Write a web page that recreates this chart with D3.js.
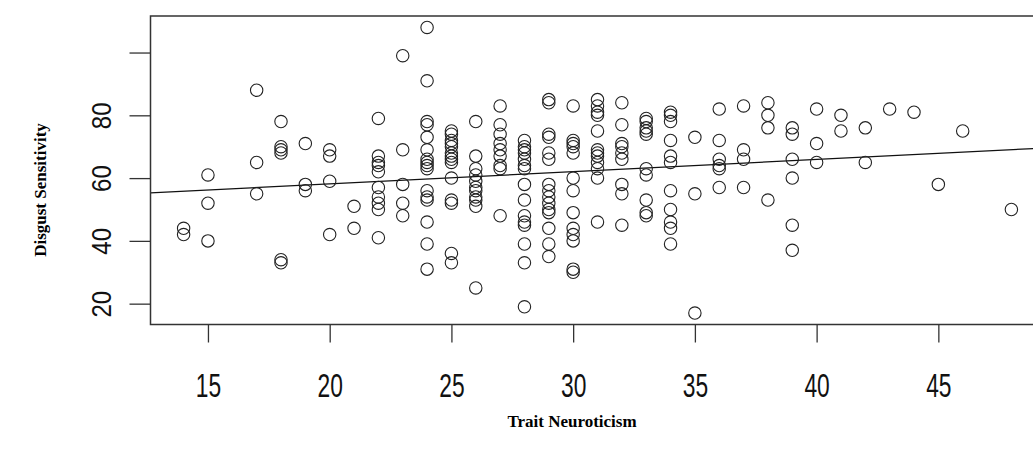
<!DOCTYPE html>
<html>
<head>
<meta charset="utf-8">
<script src="https://cdn.jsdelivr.net/npm/d3@7"></script>
<style>
  body { margin: 0; background: #fff; }
  svg { display: block; }
</style>
</head>
<body>
<div id="chart"></div>
<script>
// Trait neuroticism scores (x) and the disgust sensitivity scores seen at each of them
var neuroticism_levels = [14, 15, 17, 18, 19, 20, 21, 22, 23, 24, 25, 26, 27, 28, 29, 30, 31,
  32, 33, 34, 35, 36, 37, 38, 39, 40, 41, 42, 43, 44, 45, 46, 48];

var disgust_by_level = [
  [44, 42],
  [61, 52, 40],
  [88, 65, 55],
  [78, 70, 69, 68, 34, 33],
  [71, 58, 56],
  [69, 67, 59, 42],
  [51, 44],
  [79, 67, 65, 64, 62, 57, 54, 52, 50, 41],
  [99, 69, 58, 52, 48],
  [108, 91, 78, 77, 73, 69, 66, 65, 64, 63, 56, 54, 53, 46, 39, 31],
  [75, 74, 72, 71, 70, 68, 67, 66, 65, 60, 53, 52, 36, 33],
  [78, 67, 63, 61, 59, 57, 56, 54, 53, 51, 25],
  [83, 77, 74, 71, 69, 67, 64, 63, 48],
  [72, 70, 69, 68, 66, 64, 63, 58, 53, 48, 46, 45, 39, 33, 19],
  [85, 84, 74, 73, 68, 66, 58, 56, 54, 52, 50, 49, 44, 39, 35],
  [83, 72, 71, 70, 68, 60, 56, 49, 44, 42, 40, 31, 30],
  [85, 83, 81, 80, 75, 69, 68, 67, 65, 63, 60, 46],
  [84, 77, 71, 70, 68, 66, 58, 55, 45],
  [79, 78, 76, 75, 74, 63, 61, 53, 49, 48],
  [81, 80, 78, 72, 67, 65, 56, 50, 46, 44, 39],
  [73, 55, 17],
  [82, 72, 66, 64, 63, 57],
  [83, 69, 66, 57],
  [84, 80, 76, 53],
  [76, 74, 66, 60, 45, 37],
  [82, 71, 65],
  [80, 75],
  [76, 65],
  [82],
  [81],
  [58],
  [75],
  [50]
];

var x_ticks = [15, 20, 25, 30, 35, 40, 45];
var y_ticks = [20, 40, 60, 80, 100];
var y_tick_labels = ["20", "40", "60", "80", ""];

// abline(lm(...)) coefficients
var fit_intercept = 50.35,
    fit_slope = 0.39;

var x_label = "Trait Neuroticism",
    y_label = "Disgust Sensitivity";

var page_width = 1033,
    page_height = 454,
    plot_left = 150.5,
    plot_top = 16,
    plot_width = 894,
    plot_height = 308.5;

var points = [];
neuroticism_levels.forEach(function (level, i) {
  disgust_by_level[i].forEach(function (score) {
    points.push({x: level, y: score});
  });
});

// R pads the data range by 4% on each side
function padded(extent) {
  var pad = (extent[1] - extent[0]) * 0.04;
  return [extent[0] - pad, extent[1] + pad];
}

var x_scale = d3.scaleLinear()
    .domain(padded(d3.extent(points, function (d) { return d.x; })))
    .range([0, plot_width]);
var y_scale = d3.scaleLinear()
    .domain(padded(d3.extent(points, function (d) { return d.y; })))
    .range([plot_height, 0]);

var svg = d3.select("#chart").append("svg")
    .attr("width", page_width)
    .attr("height", page_height);

var plot = svg.append("g")
    .attr("transform", "translate(" + plot_left + "," + plot_top + ")");

var tick_font = "'Liberation Sans', Arial, sans-serif";

var x_axis = plot.append("g")
    .attr("transform", "translate(0," + plot_height + ")")
    .call(d3.axisBottom(x_scale).tickValues(x_ticks).tickSize(18));
var y_axis = plot.append("g")
    .call(d3.axisLeft(y_scale).tickValues(y_ticks).tickSize(21)
        .tickFormat(function (d, i) { return y_tick_labels[i]; }));

[x_axis, y_axis].forEach(function (axis) {
  axis.select(".domain").remove();
  axis.selectAll("line").attr("stroke", "#333").attr("stroke-width", 1.3);
  axis.selectAll("text")
      .attr("fill", "#111")
      .attr("x", null)
      .attr("y", null)
      .attr("dy", null)
      .attr("text-anchor", "middle")
      .style("font-family", tick_font)
      .style("font-size", "24px");
});

// the original picture was stretched, so the digits come out tall and narrow
x_axis.selectAll("text")
    .attr("transform", "translate(0,72.5) scale(0.95,1.4)");
y_axis.selectAll("text")
    .attr("transform", "translate(-40,0) rotate(-90) scale(1,1.15)");

// fitted line, clipped to the plot box
plot.append("clipPath").attr("id", "box-clip")
    .append("rect").attr("width", plot_width).attr("height", plot_height);

var x_domain = x_scale.domain();
plot.append("line")
    .attr("clip-path", "url(#box-clip)")
    .attr("x1", x_scale(x_domain[0]))
    .attr("y1", y_scale(fit_intercept + fit_slope * x_domain[0]))
    .attr("x2", x_scale(x_domain[1]))
    .attr("y2", y_scale(fit_intercept + fit_slope * x_domain[1]))
    .attr("stroke", "#111")
    .attr("stroke-width", 1.2);

plot.append("g").selectAll("circle")
    .data(points)
    .join("circle")
    .attr("cx", function (d) { return x_scale(d.x); })
    .attr("cy", function (d) { return y_scale(d.y); })
    .attr("r", 6.2)
    .attr("fill", "none")
    .attr("stroke", "#222")
    .attr("stroke-width", 1.1);

plot.append("rect")
    .attr("width", plot_width)
    .attr("height", plot_height)
    .attr("fill", "none")
    .attr("stroke", "#333")
    .attr("stroke-width", 1.5);

var title_font = "'Liberation Serif', 'Times New Roman', serif";

svg.append("text")
    .attr("x", 572)
    .attr("y", 427)
    .attr("text-anchor", "middle")
    .style("font-family", title_font)
    .style("font-weight", "bold")
    .style("font-size", "17px")
    .text(x_label);

svg.append("text")
    .attr("transform", "translate(46,190) rotate(-90)")
    .attr("text-anchor", "middle")
    .style("font-family", title_font)
    .style("font-weight", "bold")
    .style("font-size", "17px")
    .text(y_label);
</script>
</body>
</html>
